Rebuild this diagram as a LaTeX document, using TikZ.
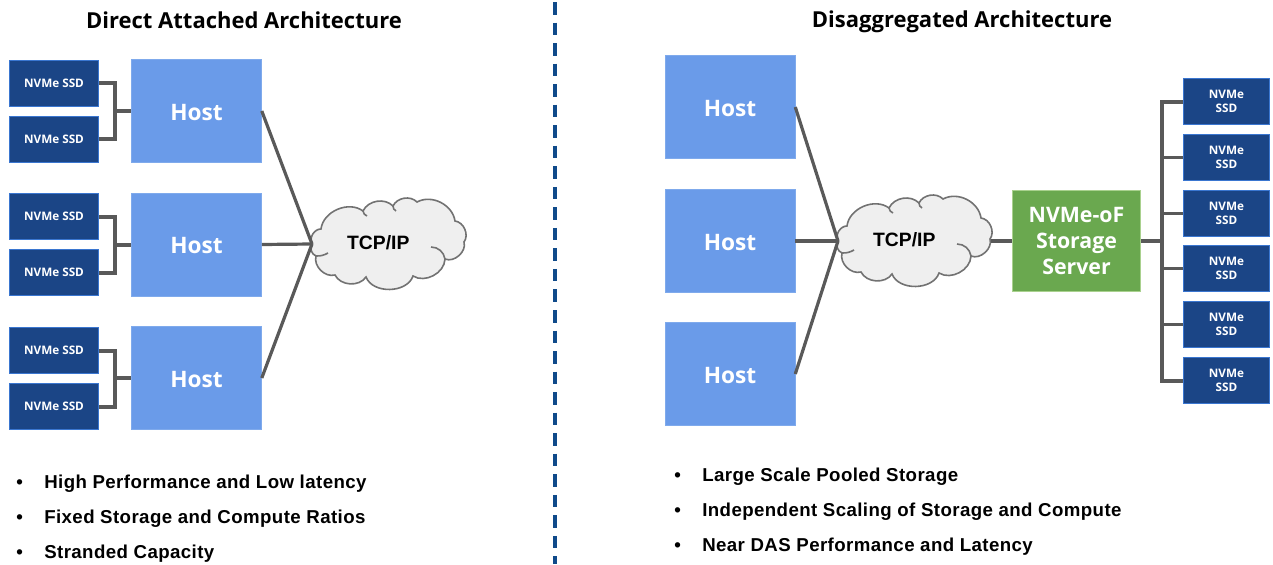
\documentclass[tikz,border=0pt]{standalone}
\usepackage{xcolor}
\usepackage{fontspec}
\setmainfont{Liberation Sans}
\newfontfamily\labelfont{Open Sans}
\newfontfamily\listfont[LetterSpace=2.2]{Liberation Sans}
\usetikzlibrary{shapes, positioning}
\definecolor{hostblue}{HTML}{6A9BE9}
\definecolor{hostedge}{HTML}{7FAAEC}
\definecolor{ssdnavy}{HTML}{1B4586}
\definecolor{ssdedge}{HTML}{3A76D0}
\definecolor{servergreen}{HTML}{6AA84F}
\definecolor{serveredge}{HTML}{A9D18E}
\definecolor{linkgrey}{HTML}{595959}
\definecolor{cloudgrey}{HTML}{EFEFEF}
\definecolor{dividernavy}{HTML}{0F4A8A}
\tikzset{
    host/.style={draw=hostedge, fill=hostblue, text=white, minimum width=130*0.75pt, minimum height=103*0.75pt, inner sep=0pt, text height=13.7pt, font=\labelfont\bfseries\fontsize{17}{20}\selectfont},
    server/.style={draw=serveredge, fill=servergreen, text=white, minimum width=128*0.75pt, minimum height=101*0.75pt, inner sep=0pt, align=center, font=\labelfont\bfseries\fontsize{16}{19.5}\selectfont},
    ssd/.style={draw=ssdedge, fill=ssdnavy, text=white, minimum width=89*0.75pt, minimum height=46*0.75pt, inner sep=0pt, align=center, font=\labelfont\bfseries\fontsize{8.8}{10.5}\selectfont},
    tcplabel/.style={minimum width=152*0.75pt, minimum height=76*0.75pt, inner sep=0pt, font=\bfseries\fontsize{14.5}{17}\selectfont},
    heading/.style={inner sep=0pt, font=\labelfont\bfseries\fontsize{16.5}{20}\selectfont},
    bullet/.style={anchor=west, inner sep=0pt, font=\listfont\bfseries\fontsize{14}{16}\selectfont},
    link/.style={draw=linkgrey, line width=2.4pt},
    trunk/.style={draw=linkgrey, line width=3pt},
    tcpcloud/.pic={
        \draw [linkgrey!85, fill=cloudgrey, line width=1.2pt] (0,0) to[bend left=60] (9,-15) to[bend left=60] (51,-33) to[bend left=55] (81,-38) to[bend left=55] (105,-42) to[bend left=55] (143,-23) to[bend left=60] (152,-2) to[bend left=65] (133,15) to[bend left=60] (101,32) to[bend left=70] (54,33) to[bend left=60] (23,31) to[bend left=60] (4,12) to[bend left=50] (0,0);
        \draw [linkgrey!85, line width=1.2pt] (119,3) to[bend left=40] (133,15);
        \draw [linkgrey!85, line width=1.2pt] (4,12) to[bend right=15] (16,9);
        \draw [linkgrey!85, line width=1.2pt] (51,-33) to[bend right=30] (55,-28);
        \draw [linkgrey!85, line width=1.2pt] (81,-38) to[bend right=30] (84,-33);
    }
}
\begin{document}
\begin{tikzpicture}[x=0.75pt, y=-0.75pt]
        \useasboundingbox (0,0) rectangle (1273,564);

        \coordinate (D1) at (555,2);
        \coordinate (D2) at (555,564);
        \draw [dividernavy, line width=3pt, dash pattern=on 9.4pt off 6pt] (D1) -- (D2);

        \begin{scope}
            \node[heading] (T1) at (244,20) {Direct Attached Architecture};

            \node[ssd] (S1) at (54,83) {NVMe SSD};
            \node[ssd] (S2) at (54,139) {NVMe SSD};
            \node[ssd] (S3) at (54,216.5) {NVMe SSD};
            \node[ssd] (S4) at (54,272.5) {NVMe SSD};
            \node[ssd] (S5) at (54,350.5) {NVMe SSD};
            \node[ssd] (S6) at (54,406.5) {NVMe SSD};

            \node[host] (H1) at (196.5,111) {Host};
            \node[host] (H2) at (196.5,244.5) {Host};
            \node[host] (H3) at (196.5,378) {Host};

            \coordinate (W1) at (312,244);
            \pic at (W1) {tcpcloud};
            \node[tcplabel, right=0pt of W1] (C1) {\raisebox{2pt}{TCP/IP}\hspace*{15pt}};

            \draw [trunk] (S1.east) -| (115,111) -- (H1.west);
            \draw [trunk] (S2.east) -| (115,111);
            \draw [trunk] (S3.east) -| (115,244.5) -- (H2.west);
            \draw [trunk] (S4.east) -| (115,244.5);
            \draw [trunk] (S5.east) -| (115,378) -- (H3.west);
            \draw [trunk] (S6.east) -| (115,378);

            \draw [link] (H1.east) -- (C1.west);
            \draw [link] (H2.east) -- (C1.west);
            \draw [link] (H3.east) -- (C1.west);

            \node[bullet] (B1) at (16,484) {•};
            \node[bullet] (B2) at (16,519) {•};
            \node[bullet] (B3) at (16,554) {•};
            \node[bullet] (L1) at (44,484) {High Performance and Low latency};
            \node[bullet] (L2) at (44,519) {Fixed Storage and Compute Ratios};
            \node[bullet] (L3) at (44,554) {Stranded Capacity};
        \end{scope}

        \begin{scope}
            \node[heading] (T2) at (962,21.5) {Disaggregated Architecture};

            \node[host] (H4) at (730,107) {Host};
            \node[host] (H5) at (730,241) {Host};
            \node[host] (H6) at (730,374) {Host};

            \coordinate (W2) at (838,241);
            \pic at (W2) {tcpcloud};
            \node[tcplabel, right=0pt of W2] (C2) {\raisebox{2pt}{TCP/IP}\hspace*{15pt}};
            \node[server] (N1) at (1076.5,241) {NVMe-oF\\Storage\\Server};

            \node[ssd, minimum width=86*0.75pt] (R1) at (1226.5,101.5) {NVMe\\SSD};
            \node[ssd, minimum width=86*0.75pt] (R2) at (1226.5,157.5) {NVMe\\SSD};
            \node[ssd, minimum width=86*0.75pt] (R3) at (1226.5,213.5) {NVMe\\SSD};
            \node[ssd, minimum width=86*0.75pt] (R4) at (1226.5,268.5) {NVMe\\SSD};
            \node[ssd, minimum width=86*0.75pt] (R5) at (1226.5,324.5) {NVMe\\SSD};
            \node[ssd, minimum width=86*0.75pt] (R6) at (1226.5,380.5) {NVMe\\SSD};

            \draw [link] (H4.east) -- (C2.west);
            \draw [link] (H5.east) -- (C2.west);
            \draw [link] (H6.east) -- (C2.west);
            \draw [link] (C2.east) -- (N1.west);

            \draw [trunk] (R1.west) -| (1162,380.5) -- (R6.west);
            \draw [trunk] (N1.east) -- (1162,241);
            \draw [link] (R2.west) -- (1162,157.5);
            \draw [link] (R3.west) -- (1162,213.5);
            \draw [link] (R4.west) -- (1162,268.5);
            \draw [link] (R5.west) -- (1162,324.5);

            \node[bullet] (B4) at (674,477) {•};
            \node[bullet] (B5) at (674,512) {•};
            \node[bullet] (B6) at (674,547) {•};
            \node[bullet] (L4) at (702,477) {Large Scale Pooled Storage};
            \node[bullet] (L5) at (702,512) {Independent Scaling of Storage and Compute};
            \node[bullet] (L6) at (702,547) {Near DAS Performance and Latency};
        \end{scope}
    \end{tikzpicture}
\end{document}
